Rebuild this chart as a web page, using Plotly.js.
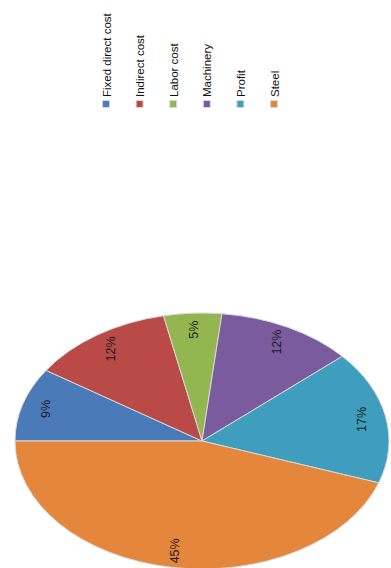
<!DOCTYPE html>
<html><head><meta charset="utf-8">
<script src="https://cdn.plot.ly/plotly-3.0.1.min.js"></script>
<style>
html,body{margin:0;padding:0;width:391px;height:568px;overflow:hidden;background:#fff;}
#wrap{position:absolute;left:0;top:0;width:568px;height:391px;transform-origin:0 0;}
#wrap.rot{transform:translate(0,568px) rotate(-90deg);}
.pielayer path.surface{vector-effect:non-scaling-stroke;}
</style></head><body>
<div id="wrap"><div id="chart" style="width:568px;height:391px"></div></div>
<script>
// ---- data ----
const categories = ['Fixed direct cost','Indirect cost','Labor cost','Machinery','Profit','Steel'];
const shares = [9.3, 12.4, 5.0, 11.8, 16.8, 44.7];
const sliceColors = ['#4a7ab8','#b94a48','#94b651','#7a5c9e','#3f9dbd','#e5863d'];

// ---- layout constants (orig, unrotated frame) ----
const PIE_CX = 127, PIE_CY = 202, PIE_RX = 128, PIE_RY = 187; // elliptical pie as in the reference
const LABEL_R = 0.87;
const LEG_SYM_X = 464, LEG_TXT_X = 471, LEG_Y0 = 106, LEG_STEP = 33.6;
const FONT = 'Liberation Sans, Arial, sans-serif';

const gd = document.getElementById('chart');
const data = [{
  type: 'pie',
  labels: categories,
  values: shares,
  sort: false,
  direction: 'clockwise',
  rotation: 0,
  marker: {colors: sliceColors, line: {color: '#d9d9d9', width: 1}},
  texttemplate: '%{percent:.0%}',
  textposition: 'inside',
  insidetextorientation: 'horizontal',
  textfont: {family: FONT, size: 12.5, color: '#1a1a1a'},
  domain: {x: [0, 0.4507], y: [0.156, 0.811]},
  hoverinfo: 'none'
}];
const layout = {
  width: 568, height: 391,
  margin: {l: 0, r: 0, t: 0, b: 0},
  paper_bgcolor: '#ffffff', plot_bgcolor: '#ffffff',
  showlegend: true,
  legend: {x: 0.8, y: 0.75, xanchor: 'left', yanchor: 'top',
           font: {family: FONT, size: 11.5, color: '#111111'},
           bgcolor: 'rgba(0,0,0,0)', borderwidth: 0},
  hovermode: false
};
Plotly.newPlot(gd, data, layout, {staticPlot: true, displayModeBar: false, responsive: false}).then(fix);

function fix() {
  const cd0 = gd.calcdata[0][0];
  const cx = cd0.cx, cy = cd0.cy, r = cd0.r;
  const total = shares.reduce((a, b) => a + b, 0);
  let cum = 0;
  gd.querySelectorAll('.pielayer .slice').forEach((s, i) => {
    const p = s.querySelector('path.surface');
    p.setAttribute('transform',
      `translate(${PIE_CX},${PIE_CY}) scale(${PIE_RX / r},${PIE_RY / r}) translate(${-cx},${-cy})`);
    const mid = 2 * Math.PI * (cum + shares[i] / 2) / total; cum += shares[i];
    const tx = PIE_CX + LABEL_R * PIE_RX * Math.sin(mid);
    const ty = PIE_CY - LABEL_R * PIE_RY * Math.cos(mid);
    const t = s.querySelector('text.slicetext') || s.querySelector('text');
    if (t) {
      t.setAttribute('transform', '');
      const bb = t.getBBox();
      t.setAttribute('transform', `translate(${tx - bb.x - bb.width / 2},${ty - bb.y - bb.height / 2})`);
      const g = t.parentNode;
      if (g && g.getAttribute && g.getAttribute('transform')) g.removeAttribute('transform');
    }
  });
  const sb = gd.querySelector('.legend .scrollbox');
  if (sb) sb.removeAttribute('clip-path');
  const gRect = gd.getBoundingClientRect();
  gd.querySelectorAll('.legend .traces').forEach((it, i) => {
    const sym = it.querySelector('.legendpoints path');
    sym.setAttribute('d', 'M3.5,3.5H-3.5V-3.5H3.5Z');
    const sr = sym.getBoundingClientRect();
    const scx = sr.left + sr.width / 2 - gRect.left, scy = sr.top + sr.height / 2 - gRect.top;
    const dy = (LEG_Y0 + i * LEG_STEP) - scy;
    it.setAttribute('transform', (it.getAttribute('transform') || '') + ` translate(0,${dy})`);
    const lp = it.querySelector('.legendpoints');
    lp.setAttribute('transform', (lp.getAttribute('transform') || '') + ` translate(${LEG_SYM_X - scx},0)`);
    const txt = it.querySelector('text.legendtext');
    const tr = txt.getBoundingClientRect();
    txt.setAttribute('transform', `translate(${LEG_TXT_X - (tr.left - gRect.left)},0)`);
  });
  document.getElementById('wrap').classList.add('rot');
}
</script>
</body></html>
